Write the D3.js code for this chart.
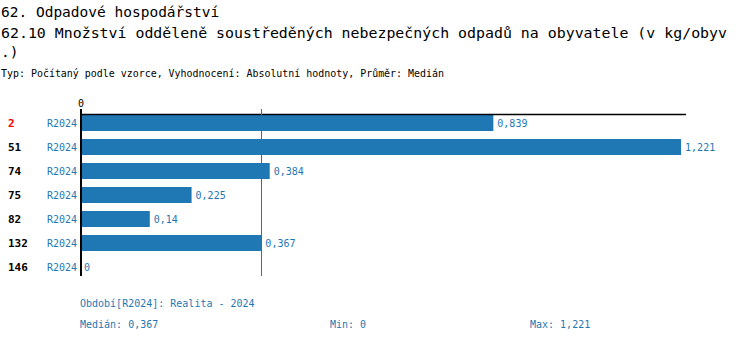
<!DOCTYPE html>
<html><head><meta charset="utf-8">
<script src="https://cdn.jsdelivr.net/npm/d3@7"></script>
<style>body{margin:0;background:#fff}svg{display:block}</style>
</head><body>
<svg id="c" width="750" height="342"></svg>
<script>
const ranks = ["2","51","74","75","82","132","146"];
const periods = ["R2024","R2024","R2024","R2024","R2024","R2024","R2024"];
const values = [0.839,1.221,0.384,0.225,0.14,0.367,0];
const highlight = ["2"];
const titleLines = ["62. Odpadové hospodářství","62.10 Množství odděleně soustředěných nebezpečných odpadů na obyvatele (v kg/obyv",".)"];
const subtitle = "Typ: Počítaný podle vzorce, Vyhodnocení: Absolutní hodnoty, Průměr: Medián";
const footerPeriod = "Období[R2024]: Realita - 2024";
const median = 0.367, minV = 0, maxV = 1.221;

const fmt = v => String(v).replace(".", ",");
const blue = "#1f77b4";
const mono = "'DejaVu Sans Mono', monospace";
const svg = d3.select("#c");

// titles
const tY = [17, 38, 57];
titleLines.forEach((t,i)=>{
  const el = svg.append("text").attr("x",1).attr("y",tY[i]).attr("font-family",mono)
    .attr("font-size",14.5).attr("fill","#000").text(t);
  if(i===1) el.attr("textLength",726).attr("lengthAdjust","spacingAndGlyphs");
});
svg.append("text").attr("x",1).attr("y",77).attr("font-family",mono).attr("font-size",10)
  .attr("fill","#000").attr("textLength",443).attr("lengthAdjust","spacingAndGlyphs").text(subtitle);

const x = d3.scaleLinear().domain([0, 1.231]).range([81, 686]);
const y = d3.scaleBand().domain(d3.range(ranks.length)).range([111, 279]).paddingInner(1/3).paddingOuter(1/6);

// bars
svg.selectAll("rect.bar").data(values).enter().append("rect")
  .attr("x", x(0)).attr("y",(d,i)=>y(i)).attr("width",d=>x(d)-x(0)).attr("height",y.bandwidth())
  .attr("fill",blue);

// value labels
svg.selectAll("text.val").data(values).enter().append("text")
  .attr("x",d=>x(d)+ (d>0?4:3)).attr("y",(d,i)=>y(i)+y.bandwidth()/2+4)
  .attr("font-family",mono).attr("font-size",10).attr("fill",blue).text(d=>fmt(d));

// rank labels
svg.selectAll("text.rank").data(ranks).enter().append("text")
  .attr("x",8).attr("y",(d,i)=>y(i)+y.bandwidth()/2+4)
  .attr("font-family",mono).attr("font-weight","bold").attr("font-size",11)
  .attr("fill",d=>highlight.includes(d)?"#ff0000":"#000").text(d=>d);

// period labels
svg.selectAll("text.per").data(periods).enter().append("text")
  .attr("x",77).attr("text-anchor","end").attr("y",(d,i)=>y(i)+y.bandwidth()/2+4)
  .attr("font-family",mono).attr("font-size",10).attr("fill",blue).text(d=>d);

// axes lines
svg.append("line").attr("x1",x(0)).attr("x2",x.range()[1]).attr("y1",114.5).attr("y2",114.5)
  .attr("stroke","#000").attr("stroke-width",1.5);
svg.append("line").attr("x1",x(0)).attr("x2",x(0)).attr("y1",109).attr("y2",276)
  .attr("stroke","#000").attr("stroke-width",2);
svg.append("text").attr("x",x(0)).attr("y",107).attr("text-anchor","middle")
  .attr("font-family",mono).attr("font-size",10).attr("fill","#000").text("0");

// median line
const mx = Math.round(x(median));
svg.append("rect").attr("x",mx).attr("y",109).attr("width",1).attr("height",167)
  .attr("fill",blue).attr("shape-rendering","crispEdges");

// footer
svg.append("text").attr("x",80).attr("y",307).attr("font-family",mono).attr("font-size",10)
  .attr("fill",blue).text(footerPeriod);
[["Medián: "+fmt(median),80],["Min: "+fmt(minV),330],["Max: "+fmt(maxV),530]].forEach(([t,xx])=>{
  svg.append("text").attr("x",xx).attr("y",328).attr("font-family",mono).attr("font-size",10)
    .attr("fill",blue).text(t);
});
</script>
</body></html>
